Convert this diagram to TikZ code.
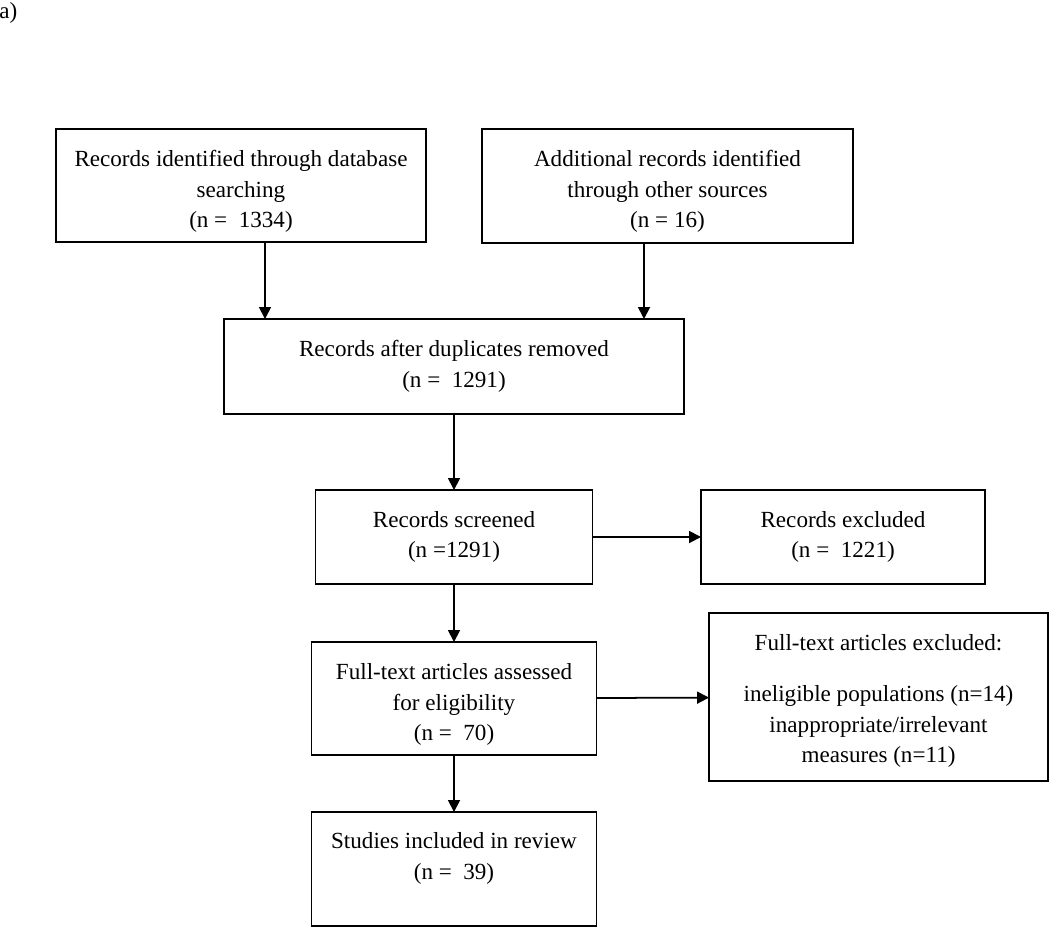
\documentclass[tikz,border=0pt]{standalone}
\usepackage{fontspec}
\setmainfont{Liberation Serif}
\usetikzlibrary{arrows.meta}
\usetikzlibrary{scopes}

\tikzset{
    frame/.style={draw,line width=1pt,inner sep=0pt,outer sep=0pt},
    txt/.style={align=center,inner sep=0pt},
    flow/.style={line width=1pt,-{Triangle[length=0.24cm,width=0.24cm]}}
}

\begin{document}
\begin{tikzpicture}[x=0.02cm,y=-0.02cm,font=\fontsize{13.15}{17.4}\selectfont]
    \useasboundingbox (0,0) rectangle (1050,927);
    \node[anchor=base west,inner sep=0pt] (tag) at (-1,18) {a)};
    { [every node/.append style=frame]
        \node[minimum width=7.4cm,minimum height=2.26cm] (db) at (241,185.5) {};
        \node[minimum width=7.42cm,minimum height=2.28cm] (other) at (667.5,186) {};
        \node[minimum width=9.2cm,minimum height=1.9cm] (dup) at (454,366.5) {};
        \node[minimum width=5.54cm,minimum height=1.88cm] (screen) at (454,537) {};
        \node[minimum width=5.68cm,minimum height=1.88cm] (excl) at (843,537) {};
        \node[minimum width=5.7cm,minimum height=2.26cm] (full) at (454,698.5) {};
        \node[minimum width=6.78cm,minimum height=3.36cm] (ftexcl) at (878.5,697) {};
        \node[minimum width=5.7cm,minimum height=2.28cm] (incl) at (454,869) {};
    }
    { [every node/.append style=txt]
        \node[yshift=-0.12cm] (dbtext) at (db)
            {Records identified through database\\searching\\(n =\ \ 1334)};
        \node[yshift=-0.11cm] (othertext) at (other)
            {Additional records identified\\through other sources\\(n = 16)};
        \node (duptext) at (dup) {Records after duplicates removed\\(n =\ \ 1291)};
        \node (screentext) at (screen) {Records screened\\(n =1291)};
        \node (excltext) at (excl) {Records excluded\\(n =\ \ 1221)};
        \node[yshift=-0.12cm] (fulltext) at (full)
            {Full-text articles assessed\\for eligibility\\(n =\ \ 70)};
        \node[yshift=-0.08cm] (ftexcltext) at (ftexcl)
            {Full-text articles excluded:\\[0.42cm]ineligible populations (n=14)\\inappropriate/irrelevant\\measures (n=11)};
        \node[yshift=0.21cm] (incltext) at (incl) {Studies included in review\\(n =\ \ 39)};
    }
    \draw[flow] ([xshift=0.48cm]db.south) -- ([xshift=0.48cm]db.south |- dup.north);
    \draw[flow] ([xshift=-0.47cm]other.south) -- ([xshift=-0.47cm]other.south |- dup.north);
    \draw[flow] (dup) -- (screen);
    \draw[flow] (screen) -- (excl);
    \draw[flow] (screen) -- (full);
    \draw[flow] (full) -- (ftexcl);
    \draw[flow] (full) -- (incl);
\end{tikzpicture}
\end{document}
